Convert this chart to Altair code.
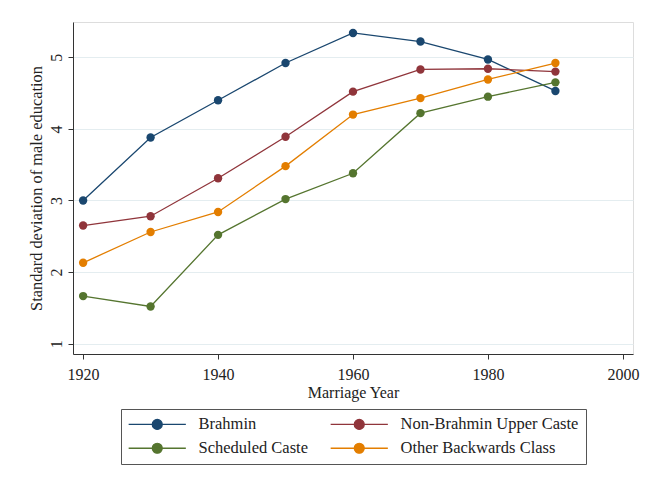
import altair as alt
import pandas as pd

years = [1920, 1930, 1940, 1950, 1960, 1970, 1980, 1990]
series_names = ["Brahmin", "Non-Brahmin Upper Caste", "Scheduled Caste", "Other Backwards Class"]
brahmin = [3.00, 3.88, 4.40, 4.92, 5.34, 5.22, 4.97, 4.53]
non_brahmin = [2.65, 2.78, 3.31, 3.89, 4.52, 4.83, 4.84, 4.80]
scheduled = [1.665, 1.52, 2.52, 3.02, 3.38, 4.22, 4.45, 4.65]
obc = [2.13, 2.56, 2.84, 3.48, 4.20, 4.43, 4.69, 4.92]
colors = ["#1a476f", "#90353b", "#55752f", "#e37e00"]
x_ticks = [1920, 1940, 1960, 1980, 2000]
y_ticks = [1, 2, 3, 4, 5]

rows = []
for name, vals in zip(series_names, [brahmin, non_brahmin, scheduled, obc]):
    for yr, v in zip(years, vals):
        rows.append({"year": yr, "sd": v, "group": name})
df = pd.DataFrame(rows)

FONT = "Liberation Serif"
TXT = "#222222"

x = alt.X("year:Q", scale=alt.Scale(domain=[1918.5, 2001.5], nice=False, zero=False),
          axis=alt.Axis(values=x_ticks, format="d", title="Marriage Year", grid=False,
                        tickSize=5, labelPadding=7, titlePadding=2,
                        labelFontSize=16, titleFontSize=16, titleFontWeight="normal"))
y = alt.Y("sd:Q", scale=alt.Scale(domain=[0.856, 5.493], nice=False, zero=False),
          axis=alt.Axis(values=y_ticks, title="Standard deviation of male education",
                        grid=True, gridColor="#e4edf0", gridWidth=1,
                        tickSize=5, labelPadding=4, labelAngle=270,
                        labelAlign="center", labelBaseline="bottom", titlePadding=4,
                        labelFontSize=16, titleFontSize=16.4, titleFontWeight="normal"))

legend_path = ("M-5.6,-0.02H5.6V0.02H-5.6Z "
               "M-1,0A1,1 0 1,0 1,0A1,1 0 1,0 -1,0Z")

legend = alt.Legend(title=None, orient="none", legendX=48, legendY=387,
                    direction="horizontal", columns=2,
                    symbolType=legend_path, symbolSize=100,
                    symbolOffset=21, labelOffset=33,
                    columnPadding=19, rowPadding=7,
                    symbolStrokeWidth=1.2,
                    labelFontSize=16.5, labelColor=TXT, labelFont=FONT,
                    padding=7, strokeColor="#555555", fillColor="white",
                    labelLimit=300)

cscale = alt.Scale(domain=series_names, range=colors)

points = alt.Chart(df).mark_circle(size=70, opacity=1).encode(
    x=x, y=y,
    color=alt.Color("group:N", scale=cscale, legend=legend),
)

lines = alt.Chart(df).mark_line(strokeWidth=1.3).encode(
    x=x, y=y,
    color=alt.Color("group:N", scale=cscale, legend=legend),
)

chart = alt.layer(points, lines).properties(
    width=560, height=332,
    padding={"left": 65, "top": 14, "right": 9, "bottom": 118},
    autosize=alt.AutoSizeParams(type="none"),
    background="white",
).configure_view(stroke=None).configure(font=FONT).configure_axis(
    domainColor="#333333", tickColor="#333333", labelColor=TXT, titleColor=TXT,
    labelFont=FONT, titleFont=FONT, domainWidth=1, tickWidth=1,
).configure_legend(
    labelFont=FONT, labelFontSize=16.5, labelColor=TXT,
)

chart.save("out.html", embed_options={"renderer": "svg", "actions": False})
